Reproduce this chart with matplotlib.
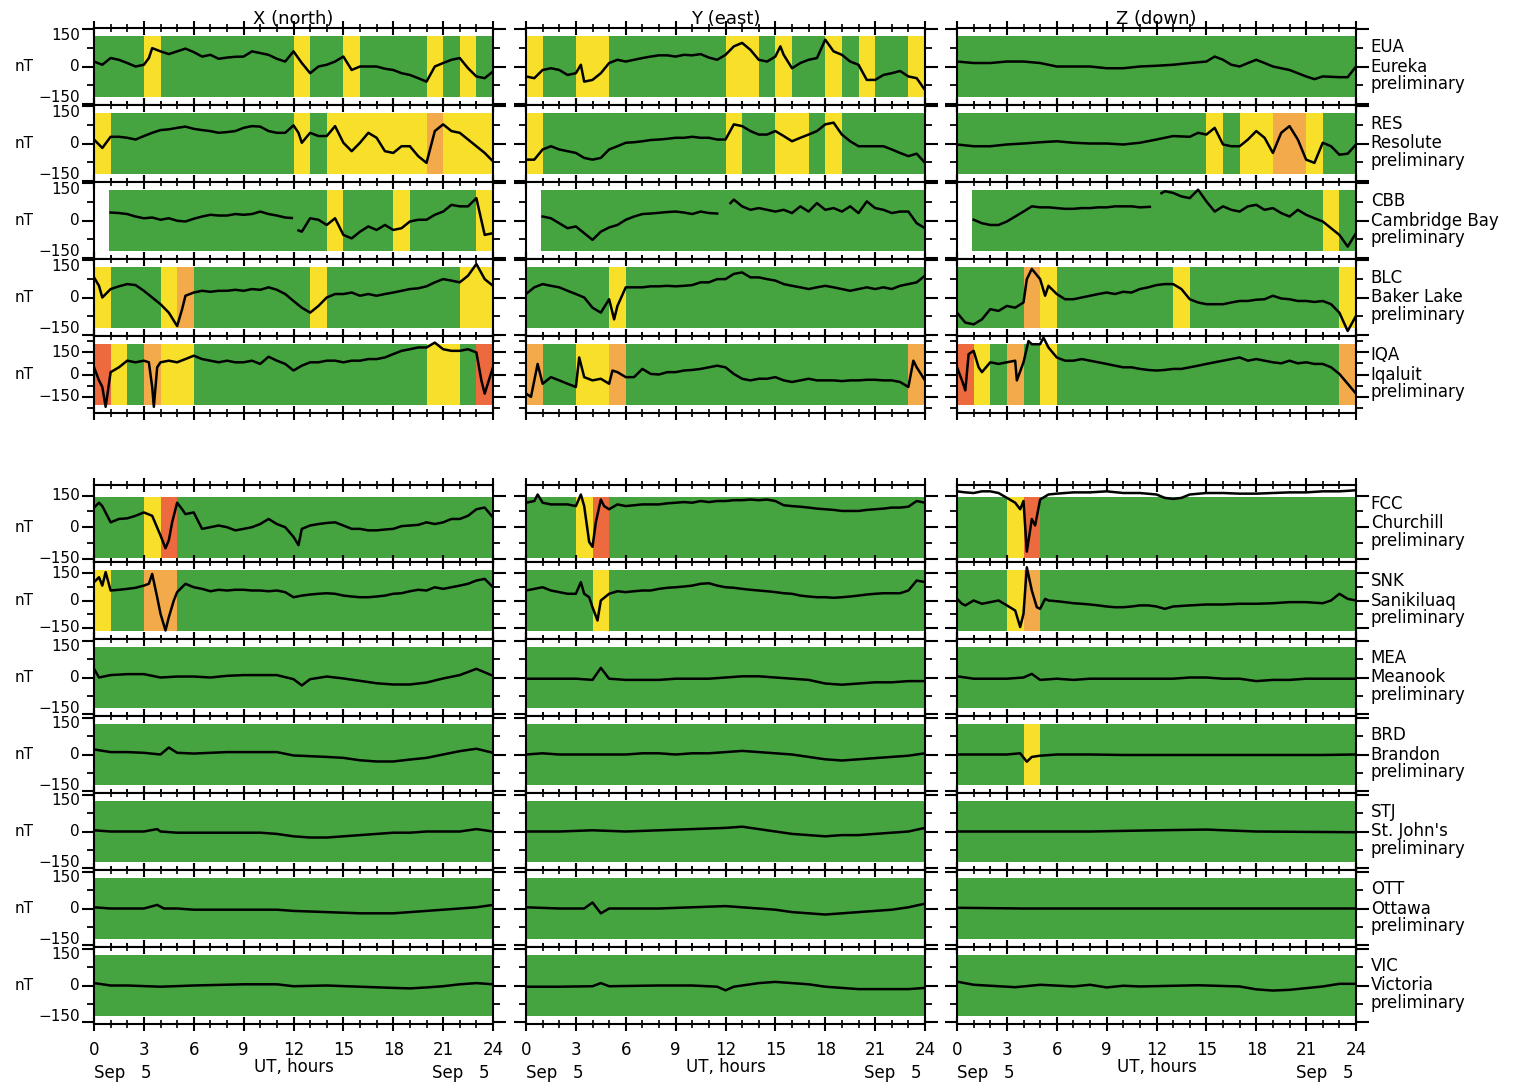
import numpy as np
import matplotlib
matplotlib.use("Agg")
import matplotlib.pyplot as plt
from matplotlib.ticker import MultipleLocator, FixedLocator
import matplotlib.transforms as mtransforms

nan = float('nan')

# ---------------- data: (UT hour, nT) ----------------
eua_x = [(0,20),(0.5,7),(1,34),(1.5,27),(2,14),(2.5,0),(3,7),(3.3,34),(3.5,74),(4,61),(4.5,50),(5,61),(5.5,72),(6,58),(6.5,40),(7,47),(7.5,31),(8,36),(8.5,39),(9,40),(9.5,61),(10,54),(10.5,47),(11,31),(11.5,20),(12,61),(12.5,14),(13,-27),(13.5,0),(14,7),(14.5,20),(15,40),(15.5,-14),(16,0),(16.5,0),(17,0),(17.5,-9),(18,-14),(18.5,-27),(19,-34),(19.5,-47),(20,-61),(20.5,0),(21,14),(21.5,27),(22,34),(22.5,-7),(23,-40),(23.5,-47),(24,-20)]
eua_y = [(0,-40),(0.5,-47),(1,-14),(1.5,-7),(2,-14),(2.5,-34),(3,-27),(3.3,7),(3.5,-61),(4,-54),(4.5,-27),(5,14),(5.5,27),(6,20),(6.5,27),(7,34),(7.5,40),(8,45),(8.5,45),(9,40),(9.5,47),(10,45),(10.5,50),(11,36),(11.5,27),(12,47),(12.5,81),(13,95),(13.5,67),(14,27),(14.5,20),(15,40),(15.3,81),(15.5,47),(16,-7),(16.5,14),(17,27),(17.5,34),(18,108),(18.5,61),(19,47),(19.5,20),(20,7),(20.5,-54),(21,-54),(21.5,-34),(22,-27),(22.5,-18),(23,-40),(23.5,-47),(24,-95)]
eua_z = [(0,20),(1,14),(2,14),(3,20),(4,20),(5,14),(6,0),(7,0),(8,0),(9,-7),(10,-7),(11,0),(12,3),(13,7),(14,14),(15,20),(15.5,40),(16,27),(16.5,7),(17,0),(17.5,14),(18,27),(18.5,14),(19,0),(20,-14),(21,-40),(21.5,-51),(22,-40),(23,-43),(23.5,-43),(24,0)]

res_x = [(0,16),(0.5,-18),(1,27),(1.5,27),(2,23),(2.5,16),(3,30),(3.5,43),(4,54),(4.5,57),(5,63),(5.5,68),(6,59),(6.5,54),(7,50),(7.5,43),(8,46),(8.5,50),(9,63),(9.5,70),(10,68),(10.5,50),(11,43),(11.5,43),(12,73),(12.3,43),(12.5,3),(13,43),(13.5,30),(14,30),(14.5,70),(15,3),(15.5,-31),(16,3),(16.5,43),(17,23),(17.5,-31),(18,-38),(18.5,-11),(19,-11),(19.5,-51),(20,-78),(20.5,50),(21,77),(21.5,50),(22,43),(22.5,16),(23,-11),(23.5,-38),(24,-72)]
res_y = [(0,-65),(0.5,-65),(1,-24),(1.5,-11),(2,-24),(2.5,-31),(3,-38),(3.5,-58),(4,-65),(4.5,-58),(5,-24),(5.5,-11),(6,3),(6.5,5),(7,9),(7.5,14),(8,16),(8.5,19),(9,23),(9.5,23),(10,27),(10.5,23),(11,23),(11.5,16),(12,16),(12.5,77),(13,70),(13.5,50),(14,36),(14.5,36),(15,50),(15.5,30),(16,9),(16.5,23),(17,36),(17.5,50),(18,77),(18.5,84),(19,36),(19.5,9),(20,-11),(20.5,-11),(21,-11),(21.5,-11),(22,-24),(22.5,-38),(23,-51),(23.5,-41),(24,-78)]
res_z = [(0,-4),(1,-11),(2,-11),(3,-4),(4,0),(5,5),(6,9),(7,3),(8,0),(9,0),(10,-4),(11,3),(12,16),(13,30),(14,27),(14.5,43),(15,36),(15.5,63),(16,-4),(16.5,-11),(17,-11),(17.5,16),(18,50),(18.5,23),(19,-38),(19.5,43),(20,70),(20.5,16),(21,-65),(21.5,-78),(22,3),(22.5,-11),(23,-45),(23.5,-41),(24,-4)]

cbb_x = [(1,32),(1.5,30),(2,26),(2.5,16),(3,9),(3.5,12),(4,3),(4.5,9),(5,-1),(5.5,-4),(6,7),(6.5,16),(7,23),(7.5,20),(8,20),(8.5,26),(9,23),(9.5,26),(10,36),(10.5,26),(11,20),(11.5,12),(11.9,10),(12,nan),(12.3,-40),(12.5,-45),(13,9),(13.5,3),(14,-18),(14.5,9),(15,-58),(15.5,-72),(16,-45),(16.5,-24),(17,-38),(17.5,-18),(18,-38),(18.5,-31),(19,-4),(19.5,3),(20,3),(20.5,23),(21,36),(21.5,63),(22,57),(22.5,57),(23,90),(23.5,-58),(24,-51)]
cbb_y = [(1,16),(1.5,9),(2,-11),(2.5,-31),(3,-24),(3.5,-51),(4,-78),(4.5,-45),(5,-28),(5.5,-18),(6,3),(6.5,16),(7,26),(7.5,28),(8,31),(8.5,34),(9,36),(9.5,32),(10,26),(10.5,36),(11,30),(11.5,28),(11.7,nan),(12.3,70),(12.5,84),(13,57),(13.5,43),(14,50),(14.5,43),(15,36),(15.5,43),(16,30),(16.5,57),(17,36),(17.5,70),(18,43),(18.5,50),(19,36),(19.5,57),(20,30),(20.5,77),(21,50),(21.5,43),(22,30),(22.5,36),(23,36),(23.5,-11),(24,-31)]
cbb_z = [(1,3),(1.5,-11),(2,-18),(2.5,-18),(3,-4),(3.5,16),(4,36),(4.5,57),(5,53),(5.5,53),(6,50),(6.5,47),(7,47),(7.5,50),(8,50),(8.5,53),(9,53),(9.5,57),(10,57),(10.5,57),(11,53),(11.6,55),(11.8,nan),(12.3,110),(12.5,118),(13,111),(13.5,97),(14,90),(14.5,124),(15,77),(15.5,36),(16,57),(16.5,43),(17,36),(17.5,57),(18,63),(18.5,43),(19,50),(19.5,30),(20,16),(20.5,43),(21,23),(21.5,9),(22,-4),(22.5,-31),(23,-58),(23.5,-105),(24,-51)]

blc_x = [(0,81),(0.3,47),(0.5,0),(1,34),(1.5,45),(2,54),(2.5,50),(3,27),(3.5,0),(4,-27),(4.5,-61),(5,-115),(5.3,-47),(5.5,7),(6,20),(6.5,27),(7,23),(7.5,27),(8,27),(8.5,31),(9,27),(9.5,34),(10,31),(10.5,41),(11,31),(11.5,14),(12,-14),(12.5,-41),(13,-61),(13.5,-34),(14,0),(14.5,14),(15,14),(15.5,20),(16,7),(16.5,14),(17,7),(17.5,14),(18,20),(18.5,27),(19,34),(19.5,37),(20,45),(20.5,61),(21,74),(21.5,68),(22,61),(22.5,88),(23,135),(23.5,74),(24,47)]
blc_y = [(0,14),(0.5,41),(1,54),(1.5,47),(2,41),(2.5,27),(3,14),(3.5,0),(4,-41),(4.5,-61),(5,-7),(5.3,-88),(5.5,-34),(6,41),(6.5,41),(7,41),(7.5,45),(8,45),(8.5,47),(9,45),(9.5,47),(10,50),(10.5,61),(11,61),(11.5,74),(12,74),(12.5,95),(13,101),(13.5,81),(14,81),(14.5,74),(15,68),(15.5,54),(16,47),(16.5,41),(17,34),(17.5,41),(18,47),(18.5,41),(19,34),(19.5,27),(20,34),(20.5,41),(21,34),(21.5,41),(22,34),(22.5,47),(23,54),(23.5,61),(24,88)]
blc_z = [(0,-61),(0.5,-101),(1,-108),(1.5,-88),(2,-47),(2.5,-54),(3,-34),(3.5,-41),(4,-20),(4.2,74),(4.5,115),(5,74),(5.3,7),(5.5,47),(6,14),(6.5,-7),(7,-7),(7.5,0),(8,7),(8.5,14),(9,20),(9.5,14),(10,23),(10.5,20),(11,34),(11.5,41),(12,50),(12.5,54),(13,54),(13.5,34),(14,-7),(14.5,-20),(15,-27),(15.5,-27),(16,-27),(16.5,-20),(17,-14),(17.5,-14),(18,-9),(18.5,-7),(19,7),(19.5,-4),(20,-7),(20.5,-14),(21,-14),(21.5,-18),(22,-14),(22.5,-27),(23,-61),(23.5,-135),(24,-74)]

iqa_x = [(0,49),(0.3,-40),(0.5,-85),(0.7,-220),(1,16),(1.5,49),(2,94),(2.5,83),(3,94),(3.3,83),(3.5,-85),(3.6,-220),(3.8,49),(4,83),(4.5,94),(5,83),(5.5,105),(6,128),(6.5,105),(7,94),(7.5,83),(8,94),(8.5,83),(9,83),(9.5,94),(10,72),(10.5,121),(11,94),(11.5,72),(12,27),(12.5,60),(13,83),(13.5,83),(14,94),(14.5,94),(15,83),(15.5,94),(16,94),(16.5,105),(17,105),(17.5,116),(18,139),(18.5,161),(19,172),(19.5,184),(20,184),(20.5,217),(21,172),(21.5,161),(22,161),(22.5,172),(23,150),(23.3,-40),(23.5,-130),(24,49)]
iqa_y = [(0,-130),(0.3,-152),(0.5,-40),(0.7,72),(1,-63),(1.5,-18),(2,-40),(2.5,-63),(3,-85),(3.2,116),(3.5,-18),(4,-40),(4.5,-29),(5,-63),(5.2,27),(5.5,16),(6,-18),(6.5,-18),(7,38),(7.5,4),(8,0),(8.5,16),(9,16),(9.5,27),(10,31),(10.5,38),(11,49),(11.5,60),(12,49),(12.5,4),(13,-29),(13.5,-40),(14,-29),(14.5,-29),(15,-18),(15.5,-40),(16,-51),(16.5,-40),(17,-29),(17.5,-40),(18,-40),(18.5,-40),(19,-45),(19.5,-40),(20,-40),(20.5,-36),(21,-36),(21.5,-40),(22,-40),(22.5,-51),(23,-85),(23.3,94),(23.5,49),(24,-40)]
iqa_z = [(0,49),(0.3,-40),(0.5,-108),(0.7,139),(1,161),(1.3,49),(1.5,16),(2,83),(2.5,72),(3,83),(3.5,94),(3.6,-40),(4,83),(4.3,228),(4.5,206),(5,206),(5.2,251),(5.5,184),(6,116),(6.5,94),(7,94),(7.5,105),(8,94),(8.5,83),(9,72),(9.5,60),(10,49),(10.5,49),(11,38),(11.5,31),(12,27),(12.5,31),(13,38),(13.5,38),(14,49),(14.5,60),(15,72),(15.5,83),(16,94),(16.5,105),(17,116),(17.5,94),(18,105),(18.5,94),(19,83),(19.5,76),(20,94),(20.5,76),(21,83),(21.5,72),(22,72),(22.5,49),(23,4),(23.5,-63),(24,-130)]

fcc_x = [(0,93),(0.3,116),(0.5,100),(1,23),(1.5,39),(2,42),(2.5,54),(3,70),(3.5,54),(4,-39),(4.3,-100),(4.5,-62),(4.7,23),(5,116),(5.3,85),(5.5,62),(6,70),(6.5,-8),(7,0),(7.5,8),(8,0),(8.5,-15),(9,-8),(9.5,0),(10,15),(10.5,39),(11,15),(11.5,0),(12,-46),(12.3,-85),(12.5,-8),(13,8),(13.5,15),(14,20),(14.5,23),(15,8),(15.5,-8),(16,-8),(16.5,-15),(17,-15),(17.5,-11),(18,-8),(18.5,5),(19,8),(19.5,11),(20,23),(20.5,15),(21,23),(21.5,39),(22,39),(22.5,54),(23,85),(23.5,93),(24,46)]
fcc_y = [(0,116),(0.5,124),(0.7,155),(1,116),(1.5,108),(2,108),(2.5,108),(3,100),(3.3,155),(3.5,100),(3.8,-70),(4,-93),(4.2,23),(4.5,131),(4.7,100),(5,85),(5.5,108),(6,100),(6.5,104),(7,108),(7.5,108),(8,108),(8.5,113),(9,116),(9.5,119),(10,116),(10.5,124),(11,119),(11.5,124),(12,124),(12.5,128),(13,128),(13.5,131),(14,128),(14.5,131),(15,124),(15.5,104),(16,100),(16.5,97),(17,93),(17.5,88),(18,85),(18.5,82),(19,77),(19.5,77),(20,77),(20.5,82),(21,85),(21.5,88),(22,93),(22.5,93),(23,97),(23.5,124),(24,116)]
fcc_z = [(0,170),(0.5,165),(1,162),(1.5,170),(2,170),(2.5,162),(3,139),(3.5,116),(3.8,85),(4,124),(4.2,-116),(4.5,39),(4.7,8),(5,131),(5.5,155),(6,159),(6.5,162),(7,165),(8,165),(9,170),(10,162),(11,162),(12,155),(12.5,139),(13,134),(13.5,139),(14,155),(15,162),(16,162),(17,159),(18,159),(19,162),(20,165),(21,165),(22,170),(23,170),(24,175)]

snk_x = [(0,101),(0.3,128),(0.5,82),(0.7,156),(1,55),(1.5,59),(2,64),(2.5,70),(3,82),(3.3,92),(3.5,146),(3.8,18),(4,-73),(4.3,-165),(4.5,-92),(4.8,0),(5,46),(5.5,92),(6,73),(6.5,64),(7,51),(7.5,59),(8,55),(8.5,59),(9,59),(9.5,55),(10,55),(10.5,51),(11,55),(11.5,46),(12,18),(12.5,27),(13,33),(13.5,37),(14,40),(14.5,37),(15,27),(15.5,22),(16,18),(16.5,18),(17,22),(17.5,27),(18,37),(18.5,40),(19,51),(19.5,59),(20,55),(20.5,73),(21,64),(21.5,73),(22,82),(22.5,92),(23,110),(23.5,119),(24,73)]
snk_y = [(0,55),(0.5,64),(1,73),(1.5,55),(2,46),(2.5,37),(3,37),(3.3,101),(3.5,37),(3.8,18),(4,-37),(4.3,-110),(4.5,0),(5,37),(5.5,51),(6,46),(6.5,51),(7,55),(7.5,55),(8,64),(8.5,70),(9,73),(9.5,77),(10,82),(10.5,92),(11,95),(11.5,82),(12,73),(12.5,70),(13,64),(13.5,59),(14,55),(14.5,51),(15,46),(15.5,40),(16,37),(16.5,27),(17,22),(17.5,18),(18,18),(18.5,15),(19,18),(19.5,22),(20,27),(20.5,33),(21,37),(21.5,40),(22,40),(22.5,40),(23,55),(23.5,110),(24,101)]
snk_z = [(0,9),(0.3,-18),(0.5,-27),(1,0),(1.5,-18),(2,-9),(2.5,0),(3,-27),(3.5,-55),(3.8,-146),(4,-73),(4.2,183),(4.5,55),(4.8,-37),(5,-46),(5.3,9),(5.5,0),(6,-4),(6.5,-9),(7,-15),(7.5,-18),(8,-22),(8.5,-27),(9,-33),(9.5,-37),(10,-37),(10.5,-33),(11,-27),(11.5,-27),(12,-33),(12.5,-46),(13,-33),(14,-27),(15,-22),(16,-22),(17,-18),(18,-18),(19,-15),(20,-9),(21,-9),(22,-15),(22.5,0),(23,37),(23.5,9),(24,0)]

mea_x = [(0,36),(0.3,0),(1,10),(2,14),(3,14),(4,0),(5,4),(6,4),(7,0),(8,7),(9,10),(10,10),(11,10),(12,-7),(12.5,-33),(13,-7),(14,4),(15,-4),(16,-14),(17,-24),(18,-29),(19,-29),(20,-21),(21,-4),(22,10),(23,36),(24,7)]
mea_y = [(0,-5),(1,-5),(2,-5),(3,-5),(4,-10),(4.5,40),(5,-5),(6,-10),(7,-10),(8,-10),(9,-5),(10,-5),(11,-5),(12,0),(13,5),(14,5),(15,0),(16,-5),(17,-10),(18,-25),(19,-30),(20,-25),(21,-20),(22,-20),(23,-15),(24,-15)]
mea_z = [(0,5),(1,-5),(2,-5),(3,-5),(4,0),(4.5,15),(5,-10),(6,-5),(7,-10),(8,-5),(9,-5),(10,-5),(11,-5),(12,-5),(13,-5),(14,0),(15,0),(16,-5),(17,-5),(18,-15),(19,-10),(20,-10),(21,-5),(22,-5),(23,-5),(24,-5)]

brd_x = [(0,21),(1,10),(2,10),(3,7),(4,0),(4.5,29),(5,7),(6,4),(7,7),(8,10),(9,10),(10,10),(11,10),(12,-4),(13,-7),(14,-10),(15,-14),(16,-24),(17,-29),(18,-29),(19,-21),(20,-14),(21,0),(22,14),(23,24),(24,7)]
brd_y = [(0,0),(1,5),(2,0),(3,0),(4,0),(5,0),(6,0),(7,5),(8,5),(9,0),(10,5),(11,5),(12,10),(13,15),(14,10),(15,5),(16,0),(17,-10),(18,-20),(19,-25),(20,-20),(21,-15),(22,-10),(23,-5),(24,5)]
brd_z = [(0,0),(1,0),(2,0),(3,0),(3.8,5),(4.2,-30),(4.5,-10),(5,-5),(6,0),(8,0),(10,-2),(12,-2),(14,-2),(16,-2),(18,-2),(20,-2),(22,-2),(24,0)]

stj_x = [(0,5),(1,0),(2,0),(3,0),(3.8,10),(4,0),(5,-5),(6,-5),(8,-5),(10,-5),(11,-10),(12,-20),(13,-25),(14,-25),(15,-20),(16,-15),(17,-10),(18,-5),(19,-5),(20,0),(21,0),(22,0),(23,10),(24,0)]
stj_y = [(0,0),(2,0),(4,5),(6,0),(8,5),(10,10),(12,15),(13,20),(14,10),(15,0),(16,-10),(17,-15),(18,-20),(19,-15),(20,-15),(21,-10),(22,-5),(23,0),(24,15)]
stj_z = [(0,0),(4,0),(8,0),(12,5),(15,8),(18,0),(24,-3)]

ott_x = [(0,5),(1,0),(2,0),(3,0),(3.8,15),(4.2,0),(5,0),(6,-5),(9,-5),(11,-5),(12,-10),(14,-15),(16,-20),(18,-20),(19,-15),(20,-10),(21,-5),(22,0),(23,5),(24,15)]
ott_y = [(0,5),(2,0),(3.5,0),(4,25),(4.5,-20),(5,0),(6,0),(8,0),(10,5),(12,10),(13,5),(14,0),(15,-5),(16,-15),(17,-20),(18,-25),(19,-20),(20,-15),(21,-10),(22,-5),(23,5),(24,20)]
ott_z = [(0,3),(4,0),(12,0),(24,0)]

vic_x = [(0,10),(1,0),(2,0),(4,-5),(6,0),(9,5),(11,5),(12,-3),(14,0),(16,-5),(18,-10),(19,-12),(20,-8),(21,-3),(22,5),(23,10),(24,5)]
vic_y = [(0,-5),(2,-5),(4,-3),(4.5,10),(5,-3),(8,0),(10,0),(11.5,-5),(12,-20),(12.5,-5),(14,10),(15,15),(16,10),(17,5),(18,-5),(19,-10),(20,-15),(21,-15),(22,-15),(23,-15),(24,-10)]
vic_z = [(0,16),(1,3),(3.5,-7),(5,3),(7,-4),(8,3),(9,-8),(10,-1),(11,-4),(14.5,1),(17,-4),(18,-16),(19,-21),(20,-18),(21,-11),(22,-4),(23,7),(24,7)]

# activity intervals (start, end, level); everything else in the band is green
eua_bands = [[(3,4,'y'),(12,13,'y'),(15,16,'y'),(20,21,'y'),(22,23,'y')],
             [(0,1,'y'),(3,5,'y'),(12,14,'y'),(15,16,'y'),(18,19,'y'),(20,21,'y'),(23,24,'y')],
             []]
res_bands = [[(0,1,'y'),(12,13,'y'),(14,20,'y'),(20,21,'o'),(21,24,'y')],
             [(0,1,'y'),(12,13,'y'),(15,17,'y'),(18,19,'y')],
             [(15,16,'y'),(17,19,'y'),(19,21,'o'),(21,22,'y')]]
cbb_bands = [[(14,15,'y'),(18,19,'y'),(23,24,'y')],
             [],
             [(22,23,'y')]]
blc_bands = [[(0,1,'y'),(4,5,'y'),(5,6,'o'),(13,14,'y'),(22,24,'y')],
             [(5,6,'y')],
             [(4,5,'o'),(5,6,'y'),(13,14,'y'),(23,24,'y')]]
iqa_bands = [[(0,1,'r'),(1,2,'y'),(3,4,'o'),(4,6,'y'),(20,22,'y'),(23,24,'r')],
             [(0,1,'o'),(3,5,'y'),(5,6,'o'),(23,24,'o')],
             [(0,1,'r'),(1,2,'y'),(3,4,'o'),(5,6,'y'),(23,24,'o')]]
fcc_bands = [[(3,4,'y'),(4,5,'r')],
             [(3,4,'y'),(4,5,'r')],
             [(3,4,'y'),(4,5,'r')]]
snk_bands = [[(0,1,'y'),(3,5,'o')],
             [(4,5,'y')],
             [(3,4,'y'),(4,5,'o')]]
brd_bands = [[], [], [(4,5,'y')]]
none_bands = [[], [], []]

# station table: code, name, series, bands, band start hour, y-limits
top_group = [
    ('EUA', 'Eureka', [eua_x, eua_y, eua_z], eua_bands, 0, (-155, 155)),
    ('RES', 'Resolute', [res_x, res_y, res_z], res_bands, 0, (-155, 155)),
    ('CBB', 'Cambridge Bay', [cbb_x, cbb_y, cbb_z], cbb_bands, 0.9, (-155, 155)),
    ('BLC', 'Baker Lake', [blc_x, blc_y, blc_z], blc_bands, 0, (-155, 155)),
    ('IQA', 'Iqaluit', [iqa_x, iqa_y, iqa_z], iqa_bands, 0, (-262, 262)),
]
bottom_group = [
    ('FCC', 'Churchill', [fcc_x, fcc_y, fcc_z], fcc_bands, 0, (-165, 200)),
    ('SNK', 'Sanikiluaq', [snk_x, snk_y, snk_z], snk_bands, 0, (-212, 212)),
    ('MEA', 'Meanook', [mea_x, mea_y, mea_z], none_bands, 0, (-160, 160)),
    ('BRD', 'Brandon', [brd_x, brd_y, brd_z], brd_bands, 0, (-160, 160)),
    ('STJ', "St. John's", [stj_x, stj_y, stj_z], none_bands, 0, (-160, 160)),
    ('OTT', 'Ottawa', [ott_x, ott_y, ott_z], none_bands, 0, (-160, 160)),
    ('VIC', 'Victoria', [vic_x, vic_y, vic_z], none_bands, 0, (-160, 160)),
]
components = ['X (north)', 'Y (east)', 'Z (down)']
hour_ticks = [0, 3, 6, 9, 12, 15, 18, 21, 24]
ytick_vals = [150, 0, -150]
ytick_text = ['150', '0', '\u2212150']

colors = {'g': '#45a43f', 'y': '#f7df2a', 'o': '#f2aa4a', 'r': '#ec6a3e'}

W, H = 1521, 1085
fig = plt.figure(figsize=(W / 100, H / 100), dpi=100)
col_left = [94, 526, 957]
col_w = 399
row_h = 77


def make_panel(px_left, px_top, series, bands, band_start, ylim, show_xlabels):
    ax = fig.add_axes([px_left / W, 1 - (px_top + row_h) / H, col_w / W, row_h / H])
    ax.set_xlim(0, 24)
    ax.set_ylim(*ylim)
    lo, hi = ylim
    f0 = -lo / (hi - lo)
    half = 0.396
    bmin, bmax = f0 - half, f0 + half
    ax.axvspan(band_start, 24, ymin=bmin, ymax=bmax, color=colors['g'], lw=0, zorder=0)
    for s, e, lev in bands:
        ax.axvspan(s, e, ymin=bmin, ymax=bmax, color=colors[lev], lw=0, zorder=1)
    t = np.array([p[0] for p in series], dtype=float)
    v = np.array([p[1] for p in series], dtype=float)
    ax.plot(t, v, color='black', lw=1.8, zorder=3)
    ax.set_xticks(hour_ticks)
    ax.xaxis.set_minor_locator(MultipleLocator(1))
    ax.tick_params(axis='x', which='major', direction='inout', length=10, width=1.5,
                   top=True, bottom=True, labelbottom=show_xlabels, labelsize=12, pad=7)
    ax.tick_params(axis='x', which='minor', direction='inout', length=6, width=1.2,
                   top=True, bottom=True)
    ax.set_yticks(ytick_vals)
    ax.set_yticklabels([])
    minor = [m for m in [-225, -75, 75, 225] if lo < m < hi]
    ax.yaxis.set_minor_locator(FixedLocator(minor))
    ax.tick_params(axis='y', which='major', direction='out', length=9, width=1.5,
                   left=True, right=True)
    ax.tick_params(axis='y', which='minor', direction='out', length=5, width=1.3,
                   left=True, right=True)
    for sp in ax.spines.values():
        sp.set_linewidth(1.5)
    return ax


def draw_group(group, top0, last_labels):
    for r, (code, name, comps, bands, bstart, ylim) in enumerate(group):
        top = top0 + r * row_h
        for c in range(3):
            show = last_labels and r == len(group) - 1
            ax = make_panel(col_left[c], top, comps[c], bands[c], bstart, ylim, show)
            if c == 0:
                trans = mtransforms.blended_transform_factory(ax.transAxes, ax.transData)
                tight = ylim[1] - 150 < 15
                for val, txt in zip(ytick_vals, ytick_text):
                    va = 'center'
                    if tight and val > 0:
                        va = 'top'
                    elif tight and val < 0:
                        va = 'bottom'
                    yv = val
                    if va == 'top':
                        yv = ylim[1]
                    elif va == 'bottom':
                        yv = ylim[0]
                    ax.text(-0.035, yv, txt, transform=trans, ha='right', va=va, fontsize=11)
                ax.text(-0.175, 0, 'nT', transform=trans, ha='center', va='center', fontsize=11)
            if c == 2:
                ax.text(1.037, 0.75, code, transform=ax.transAxes, fontsize=12, va='center')
                ax.text(1.037, 0.50, name, transform=ax.transAxes, fontsize=12, va='center')
                ax.text(1.037, 0.27, 'preliminary', transform=ax.transAxes, fontsize=12, va='center')
            if r == 0 and top0 < 100:
                ax.set_title(components[c], fontsize=13, pad=1)


draw_group(top_group, 28, False)
draw_group(bottom_group, 485, True)

for c in range(3):
    x0 = col_left[c] / W
    xc = (col_left[c] + col_w / 2) / W
    x1 = (col_left[c] + col_w) / W
    fig.text(xc, 1 - 1067 / H, 'UT, hours', ha='center', va='center', fontsize=12)
    fig.text(x0, 1 - 1073 / H, 'Sep   5', ha='left', va='center', fontsize=12)
    fig.text(x1 - 3 / W, 1 - 1073 / H, 'Sep   5', ha='right', va='center', fontsize=12)

fig.savefig('out.png', dpi=100, facecolor='white')
